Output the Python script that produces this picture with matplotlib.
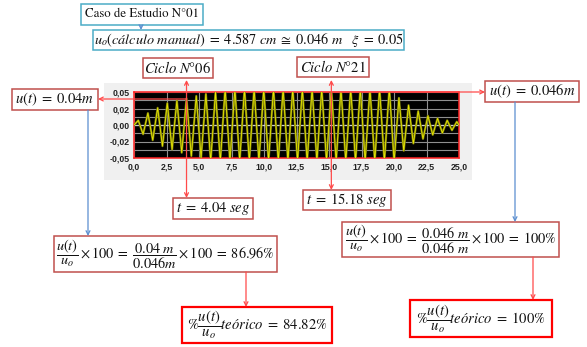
import numpy as np
import matplotlib
matplotlib.use("Agg")
import matplotlib.pyplot as plt
from matplotlib.patches import Rectangle

# Extremos de la respuesta u(t) (s, m)
peak_t = [0.33, 1.07, 1.82, 2.56, 3.30, 4.04, 4.79, 5.53, 6.27, 7.01, 7.76,
          8.50, 9.24, 9.98, 10.73, 11.47, 12.21, 12.95, 13.70, 14.44, 15.18,
          15.92, 16.67, 17.41, 18.15, 18.89, 19.64, 20.38, 21.12, 21.86,
          22.61, 23.35, 24.09, 24.83]
peak_u = [0.007, 0.018, 0.026, 0.033, 0.037, 0.040, 0.044, 0.047, 0.050,
          0.055, 0.055, 0.055, 0.055, 0.055, 0.055, 0.055, 0.055, 0.055,
          0.055, 0.055, 0.055, 0.055, 0.055, 0.055, 0.055, 0.055, 0.055,
          0.041, 0.030, 0.021, 0.014, 0.010, 0.007, 0.005]
trough_t = [0.70, 1.44, 2.19, 2.93, 3.67, 4.41, 5.16, 5.90, 6.64, 7.38, 8.13,
            8.87, 9.61, 10.35, 11.10, 11.84, 12.58, 13.32, 14.07, 14.81,
            15.55, 16.29, 17.04, 17.78, 18.52, 19.26, 20.01, 20.75, 21.49,
            22.23, 22.98, 23.72, 24.46]
trough_u = [-0.014, -0.023, -0.032, -0.037, -0.042, -0.047, -0.050, -0.055,
            -0.055, -0.055, -0.055, -0.055, -0.055, -0.055, -0.055, -0.055,
            -0.055, -0.055, -0.055, -0.055, -0.055, -0.055, -0.055, -0.055,
            -0.055, -0.055, -0.055, -0.039, -0.028, -0.021, -0.015, -0.012,
            -0.008]
start_t, start_u = [0.0], [0.0]
end_t, end_u = [25.0], [0.0]

x_ticks = [0, 2.5, 5, 7.5, 10, 12.5, 15, 17.5, 20, 22.5, 25]
x_labels = ["0,0", "2,5", "5,0", "7,5", "10,0", "12,5", "15,0", "17,5",
            "20,0", "22,5", "25,0"]
y_ticks = [-0.05, -0.025, 0.0, 0.025, 0.05]
y_labels = ["-0,05", "-0,02", "0,00", "0,02", "0,05"]

t_cycle6, t_cycle21 = 4.04, 15.18

plt.rcParams["mathtext.fontset"] = "stix"
plt.rcParams["font.family"] = ["STIXGeneral", "DejaVu Serif"]

W, H = 587, 347
fig = plt.figure(figsize=(W / 100, H / 100), dpi=100)

def frac(x0, y0, x1, y1):
    return [x0 / W, 1 - y1 / H, (x1 - x0) / W, (y1 - y0) / H]

# fondo y capa de anotaciones en pixeles
bg = fig.add_axes([0, 0, 1, 1], zorder=0)
bg.set_xlim(0, W); bg.set_ylim(H, 0); bg.axis("off")
bg.add_patch(Rectangle((104, 83), 368, 97, fc="#f0f0f0", ec="none"))

AX = (134, 92, 459, 158)
ax = fig.add_axes(frac(*AX), zorder=1)
ax.set_facecolor("black")

t = np.concatenate([start_t, peak_t, trough_t, end_t])
u = np.concatenate([start_u, peak_u, trough_u, end_u])
order = np.argsort(t)
t, u = t[order], u[order]

ax.plot(t, u, color="#77770a", lw=1.6, zorder=3)
ax.plot(t, u, color="#e8e800", lw=0.6, zorder=4)

ax.set_xlim(0, 25)
ax.set_ylim(-0.05, 0.05)
ax.set_xticks(x_ticks)
ax.set_xticklabels(x_labels)
ax.set_yticks(y_ticks)
ax.set_yticklabels(y_labels)
ax.set_yticks(np.arange(-0.05, 0.0501, 0.0125), minor=True)
ax.tick_params(length=0, which="both", pad=3)
for lab in ax.get_xticklabels() + ax.get_yticklabels():
    lab.set_family("Liberation Sans"); lab.set_fontweight("bold")
    lab.set_fontsize(6.3); lab.set_color("#222222")
ax.grid(True, which="both", axis="y", color="#8f8f8f", lw=0.8)
ax.grid(True, which="major", axis="x", color="#8f8f8f", lw=0.8)
ax.axhline(0, color="#d0d0d0", lw=0.9, zorder=2)
for s in ax.spines.values():
    s.set_color("#ff2020"); s.set_linewidth(1.1)

ov = fig.add_axes([0, 0, 1, 1], zorder=2)
ov.set_xlim(0, W); ov.set_ylim(H, 0); ov.axis("off")
ov.patch.set_alpha(0)

CYAN = "#4bacc6"
DRED = "#c0504d"
RED = "#ff0000"
ARED = "#ff4a4a"
BLUE = "#5b8fd0"

def box(x0, y0, x1, y1, text, ec, lw=1.1, size=10.5):
    ov.add_patch(Rectangle((x0, y0), x1 - x0, y1 - y0, fc="white", ec=ec, lw=lw))
    ov.text((x0 + x1) / 2, (y0 + y1) / 2, text, ha="center", va="center",
            fontsize=size, color="#111111")

def arrow(x0, y0, x1, y1, color, style="->"):
    ov.annotate("", xy=(x1, y1), xytext=(x0, y0),
                arrowprops=dict(arrowstyle=style, color=color, lw=0.9,
                                shrinkA=0, shrinkB=0, mutation_scale=7))

def t_px(tv):
    return AX[0] + tv / 25 * (AX[2] - AX[0])

x6, x21 = t_px(t_cycle6), t_px(t_cycle21)

# flechas
arrow(141, 25, 141, 30, BLUE)
arrow(x6, 99, 98, 99, ARED)
arrow(x6, 80, x6, 198, ARED, "<->")
arrow(x21, 92, 485, 92, ARED)
arrow(x21, 80, x21, 190, ARED, "<->")
arrow(88, 110, 88, 236, BLUE)
arrow(515, 102, 515, 222, BLUE)
arrow(246, 272, 246, 307, ARED)
arrow(533, 257, 533, 300, ARED)

EQ = r"\;=\;"
# cajas
box(81, 4, 203, 25, "Caso de Estudio N°01", CYAN, size=9.3)
box(93, 30, 404, 50,
    r"$u_o(cálculo\ manual)" + EQ + r"4.587\ cm\;\cong\;0.046\ m\quad \xi" + EQ + "0.05$",
    CYAN, size=10.3)
box(143, 58, 213, 78, r"$Ciclo\ N°06$", DRED)
box(297, 57, 369, 77, r"$Ciclo\ N°21$", DRED)
box(12, 89, 98, 110, r"$u(t)" + EQ + "0.04m$", DRED)
box(485, 81, 579, 102, r"$u(t)" + EQ + "0.046m$", DRED)
box(173, 198, 253, 219, r"$t" + EQ + r"4.04\ seg$", DRED)
box(303, 190, 391, 210, r"$t" + EQ + r"15.18\ seg$", DRED)
box(54, 236, 277, 272,
    r"$\dfrac{u(t)}{u_o}\times 100" + EQ + r"\dfrac{0.04\ m}{0.046m}\times 100" + EQ + r"86.96\%$",
    DRED, size=10.3)
box(342, 222, 559, 257,
    r"$\dfrac{u(t)}{u_o}\times 100" + EQ + r"\dfrac{0.046\ m}{0.046\ m}\times 100" + EQ + r"100\%$",
    DRED, size=10.3)
box(182, 307, 332, 343, r"$\%\dfrac{u(t)}{u_o}teórico" + EQ + r"84.82\%$", RED, lw=1.6)
box(410, 300, 552, 337, r"$\%\dfrac{u(t)}{u_o}teórico" + EQ + r"100\%$", RED, lw=1.6)

fig.savefig("out.png", dpi=100)
